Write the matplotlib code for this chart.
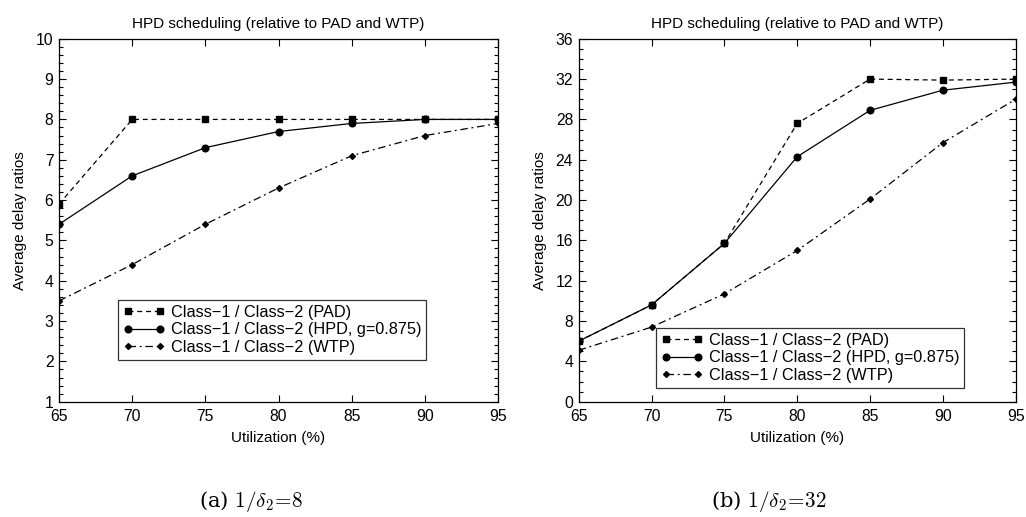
import matplotlib
matplotlib.use("Agg")
import matplotlib.pyplot as plt
from matplotlib.ticker import MultipleLocator

plt.rcParams['font.family'] = ['Liberation Sans', 'DejaVu Sans']
plt.rcParams['mathtext.fontset'] = 'cm'

util = [65, 70, 75, 80, 85, 90, 95]

# Panel (a) 1/delta2 = 8
pad_a = [5.9, 8.0, 8.0, 8.0, 8.0, 8.0, 8.0]
hpd_a = [5.4, 6.6, 7.3, 7.7, 7.9, 8.0, 8.0]
wtp_a = [3.5, 4.4, 5.4, 6.3, 7.1, 7.6, 7.9]

# Panel (b) 1/delta2 = 32
pad_b = [6.0, 9.6, 15.7, 27.6, 32.0, 31.9, 32.0]
hpd_b = [6.0, 9.6, 15.7, 24.3, 28.9, 30.9, 31.7]
wtp_b = [5.1, 7.4, 10.7, 15.0, 20.1, 25.7, 30.0]

labels = ["Class\u22121 / Class\u22122 (PAD)",
          "Class\u22121 / Class\u22122 (HPD, g=0.875)",
          "Class\u22121 / Class\u22122 (WTP)"]
title = "HPD scheduling (relative to PAD and WTP)"
captions = [r"(a) $1/\delta_2\!=\!8$", r"(b) $1/\delta_2\!=\!32$"]

fig = plt.figure(figsize=(10.26, 5.17), dpi=100)
ax1 = fig.add_axes([0.0575, 0.223, 0.428, 0.702])
ax2 = fig.add_axes([0.564, 0.223, 0.426, 0.702])

FS = 11
LFS = 11.7

def draw(ax, pad, hpd, wtp, ylim, ymaj, ymin, leg_bbox):
    ax.plot(util, pad, color='black', lw=0.9, ls=(0, (4, 3)), marker='s', ms=4.6, label=labels[0])
    ax.plot(util, hpd, color='black', lw=0.9, ls='-', marker='o', ms=4.8, label=labels[1])
    ax.plot(util, wtp, color='black', lw=0.9, ls=(0, (6, 3, 1.5, 3)), marker='D', ms=3.0, label=labels[2])
    ax.set_xlim(65, 95)
    ax.set_ylim(*ylim)
    ax.set_xticks(util)
    ax.yaxis.set_major_locator(MultipleLocator(ymaj))
    ax.yaxis.set_minor_locator(MultipleLocator(ymin))
    ax.tick_params(which='both', direction='in', top=True, right=True, labelsize=11.3)
    ax.tick_params(axis='x', pad=5)
    ax.tick_params(axis='y', pad=4)
    ax.tick_params(which='major', length=5, width=0.8)
    ax.tick_params(which='minor', length=3, width=0.8)
    ax.tick_params(axis='x', which='minor', bottom=False, top=False)
    for s in ax.spines.values():
        s.set_linewidth(0.9)
    ax.set_title(title, fontsize=FS, pad=8)
    ax.set_xlabel("Utilization (%)", fontsize=FS, labelpad=5)
    ax.set_ylabel("Average delay ratios", fontsize=FS, labelpad=6)
    leg = ax.legend(loc='upper left', bbox_to_anchor=leg_bbox, bbox_transform=fig.transFigure,
                    fontsize=LFS, numpoints=2, handlelength=2.6, handletextpad=0.35,
                    labelspacing=0.15, borderpad=0.3, borderaxespad=0, frameon=True,
                    fancybox=False, edgecolor='black')
    leg.get_frame().set_linewidth(0.9)

draw(ax1, pad_a, hpd_a, wtp_a, (1, 10), 1, 0.2, (118 / 1026, 1 - 300 / 517))
draw(ax2, pad_b, hpd_b, wtp_b, (0, 36), 4, 1, (656 / 1026, 1 - 328 / 517))

fig.text(251 / 1026, 1 - 502 / 517, captions[0], ha='center', va='center', fontsize=15.2, family='serif')
fig.text(769 / 1026, 1 - 502 / 517, captions[1], ha='center', va='center', fontsize=15.2, family='serif')

fig.savefig("out.png", dpi=100)
